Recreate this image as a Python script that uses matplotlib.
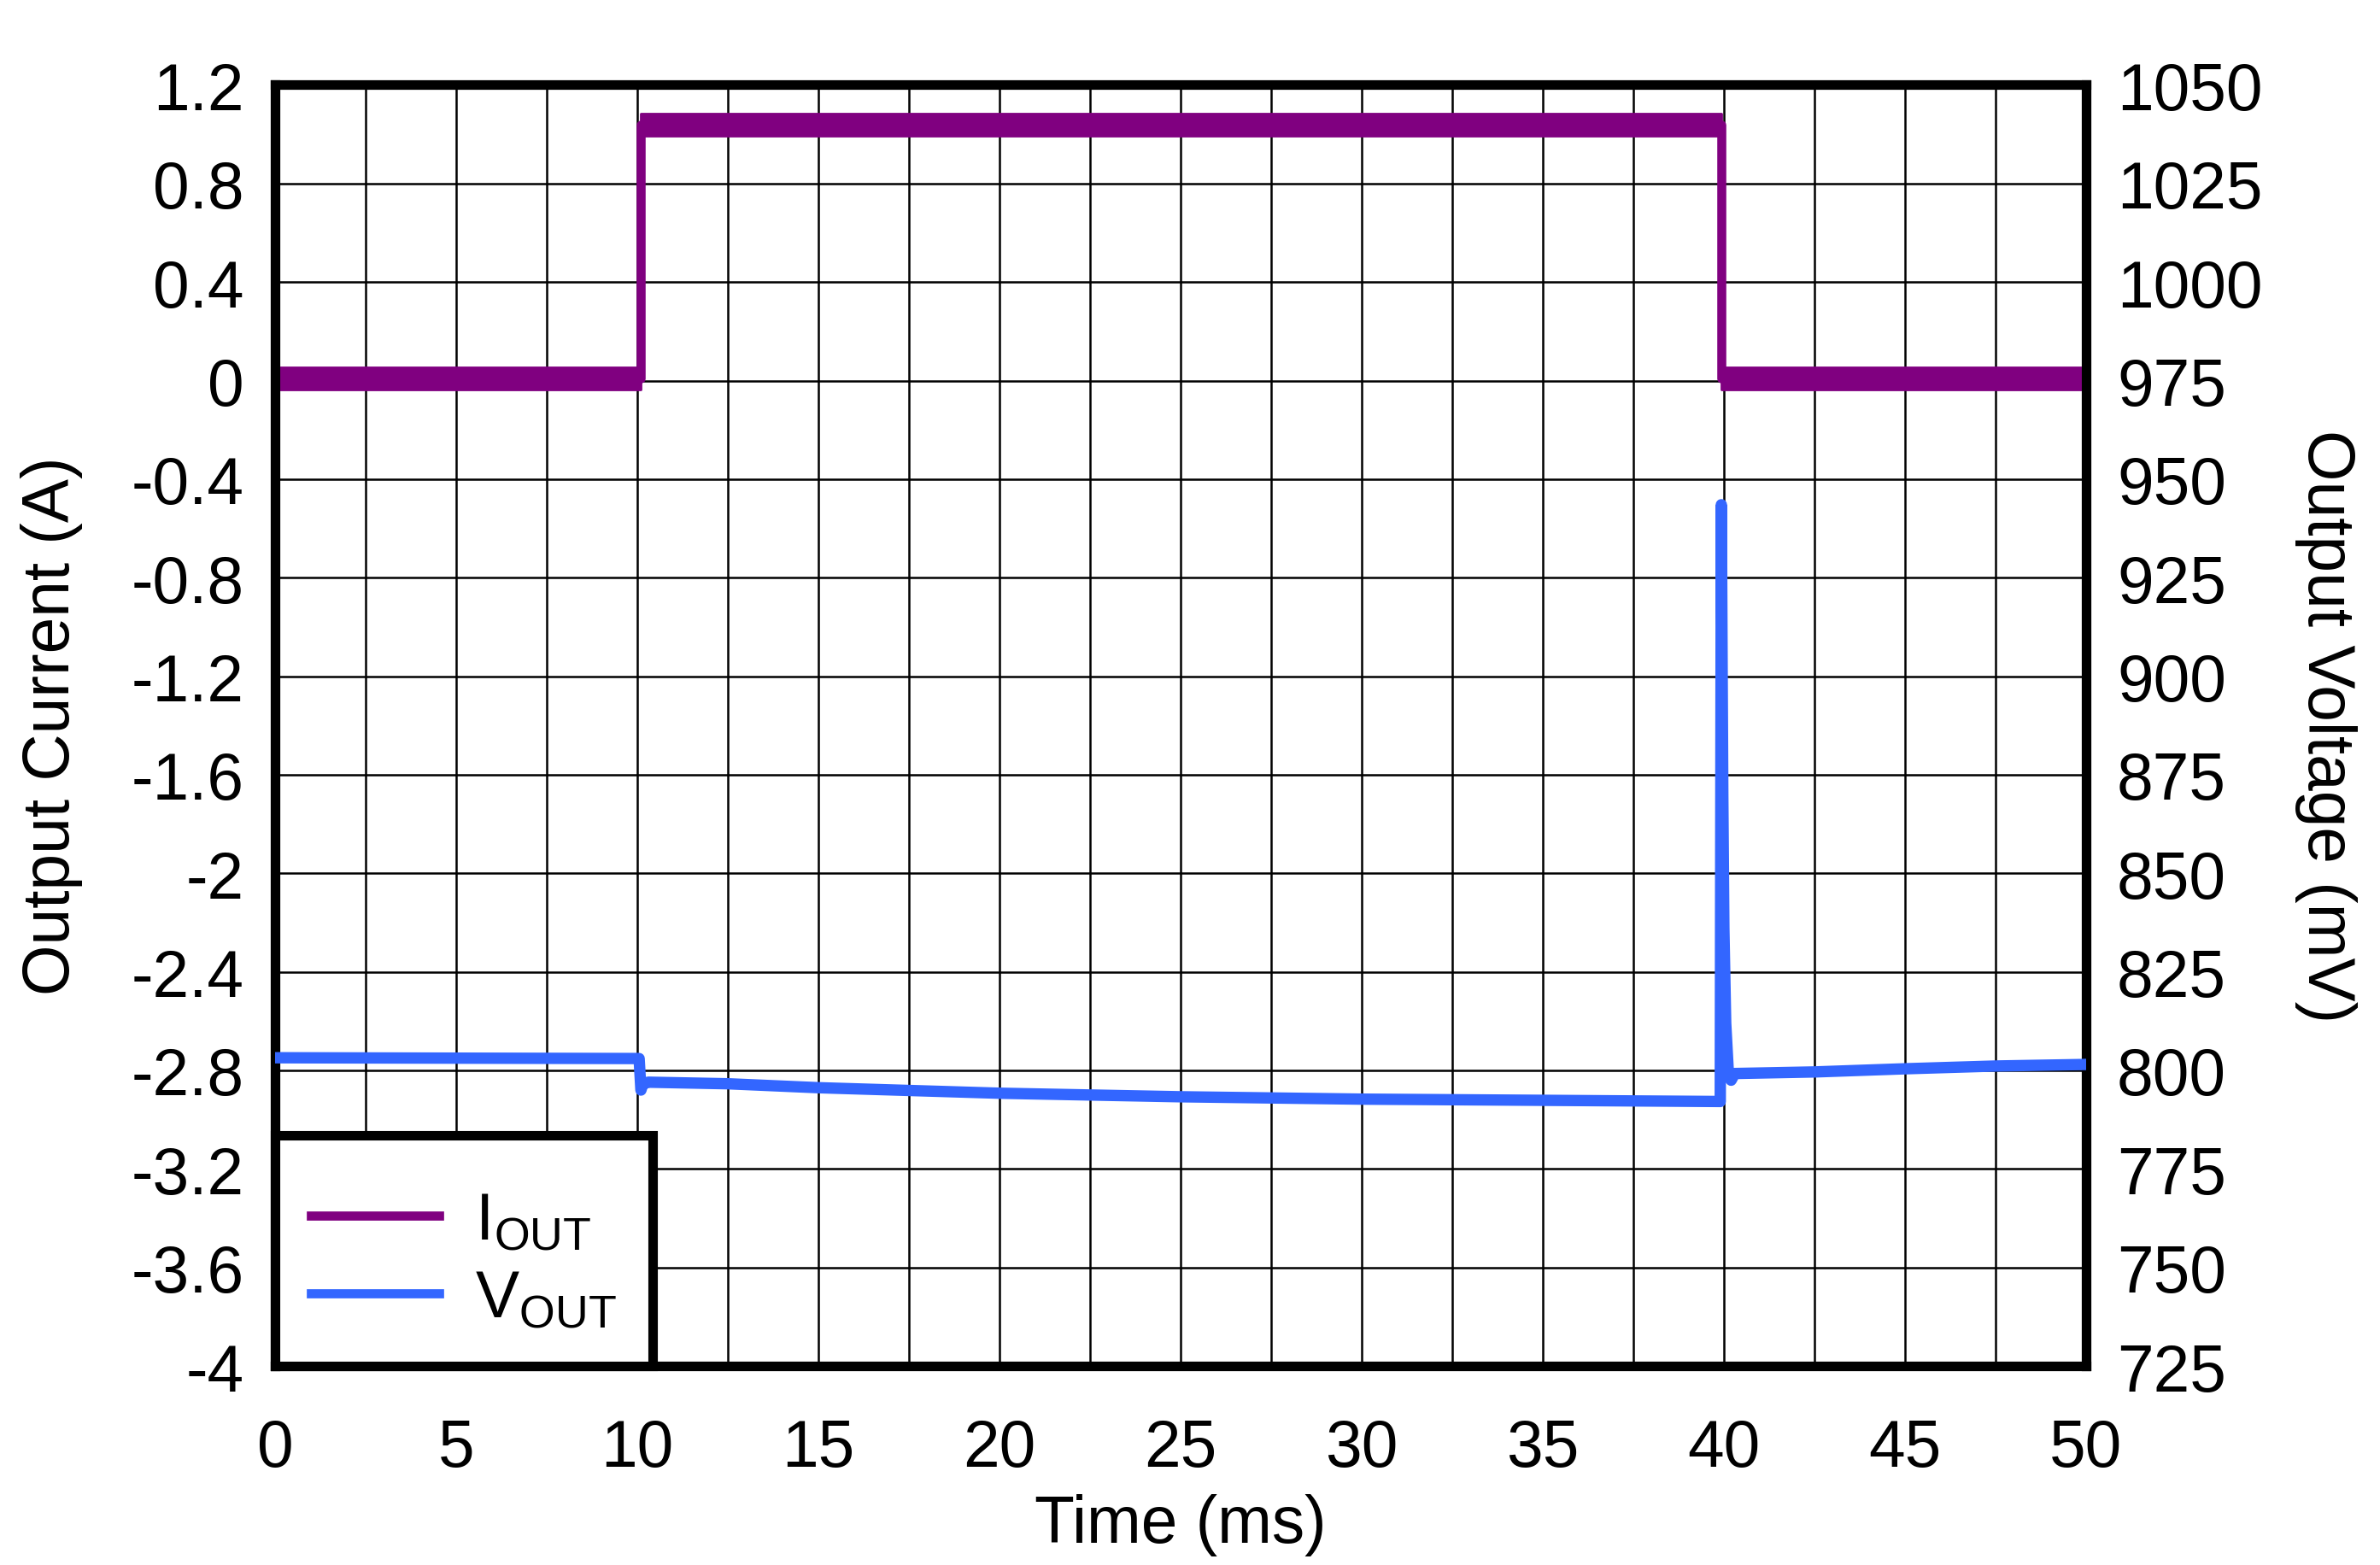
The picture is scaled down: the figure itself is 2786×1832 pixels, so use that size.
import numpy as np
import matplotlib
matplotlib.use("Agg")
import matplotlib.pyplot as plt
from matplotlib.lines import Line2D

plt.rcParams['font.family'] = ['Liberation Sans', 'DejaVu Sans']
plt.rcParams['mathtext.fontset'] = 'custom'
plt.rcParams['mathtext.rm'] = 'Liberation Sans'
plt.rcParams['mathtext.it'] = 'Liberation Sans:italic'

# data
t_iout = [0, 10.1, 10.1, 39.92, 39.92, 50]
iout = [0.01, 0.01, 1.04, 1.04, 0.01, 0.01]
# half width of the noisy band seen on the current trace
iout_noise = [0.045, 0.045, 0.045, 0.045, 0.045, 0.045]

t_vout = [0, 5, 10.05, 10.1, 10.15, 10.3, 12.5, 15, 20, 25, 30, 35, 39.9,
          39.93, 39.95, 39.97, 40.0, 40.05, 40.12, 40.2, 40.3, 42.5, 45, 47.5, 50]
vout = [803.2, 803.1, 803.0, 795.0, 796.5, 797.0, 796.6, 795.6, 794.2, 793.3, 792.7, 792.4, 792.1,
        943.5, 905, 870, 836, 812, 800, 797.5, 799.2, 799.6, 800.4, 801.1, 801.5]

x_ticks = [0, 5, 10, 15, 20, 25, 30, 35, 40, 45, 50]
i_ticks = [-4, -3.6, -3.2, -2.8, -2.4, -2, -1.6, -1.2, -0.8, -0.4, 0, 0.4, 0.8, 1.2]
i_labels = ['-4', '-3.6', '-3.2', '-2.8', '-2.4', '-2', '-1.6', '-1.2', '-0.8', '-0.4',
            '0', '0.4', '0.8', '1.2']
v_ticks = [725, 750, 775, 800, 825, 850, 875, 900, 925, 950, 975, 1000, 1025, 1050]

purple = '#800080'
blue = '#3366ff'
fs = 27.6

fig = plt.figure(figsize=(13.93, 9.165), dpi=200)
ax = fig.add_axes([0.1156, 0.1271, 0.7609, 0.8181])
ax2 = ax.twinx()

# current trace with its noise band
lo = [c - n for c, n in zip(iout, iout_noise)]
hi = [c + n for c, n in zip(iout, iout_noise)]
ax.fill_between(t_iout, lo, hi, facecolor=purple, edgecolor=purple, lw=1, zorder=4)
ax.plot(t_iout, iout, color=purple, lw=3.8, zorder=4, solid_capstyle='round')

ax2.plot(t_vout, vout, color=blue, lw=4.8, zorder=3, solid_capstyle='round')

ax.set_xlim(0, 50)
ax.set_ylim(-4, 1.2)
ax2.set_ylim(725, 1050)

ax.set_xticks(x_ticks)
ax.set_xticks(np.arange(0, 50.1, 2.5), minor=True)
ax.set_yticks(i_ticks)
ax.set_yticklabels(i_labels)
ax2.set_yticks(v_ticks)

ax.grid(True, which='both', color='black', lw=0.9)
ax.set_axisbelow(True)

for a in (ax, ax2):
    for s in a.spines.values():
        s.set_linewidth(4)
    a.tick_params(axis='both', which='both', length=0, labelsize=fs)
ax.tick_params(axis='x', pad=21.5)
ax.tick_params(axis='y', pad=13)
ax2.tick_params(axis='y', pad=13)

ax.set_xlabel('Time (ms)', fontsize=fs)
ax.set_ylabel('Output Current (A)', fontsize=fs)
ax2.set_ylabel('Output Voltage (mV)', fontsize=fs, rotation=270, va='bottom')
ax.xaxis.set_label_coords(0.5, -0.0995)
ax.yaxis.set_label_coords(-0.1060, 0.5)
ax2.yaxis.set_label_coords(1.1150, 0.5)

handles = [Line2D([], [], color=purple, lw=3.85), Line2D([], [], color=blue, lw=3.85)]
leg = ax2.legend(handles, [r'$\mathregular{I_{OUT}}$', r'$\mathregular{V_{OUT}}$'],
                 loc='lower left', bbox_to_anchor=(0, 0), borderaxespad=0,
                 fontsize=fs, fancybox=False, framealpha=1, edgecolor='black',
                 handlelength=1.95, handletextpad=0.55, borderpad=0.55, labelspacing=0.23,
                 title=' ', title_fontsize=1)
leg.get_frame().set_linewidth(4)

fig.savefig('out.png', dpi=200)
